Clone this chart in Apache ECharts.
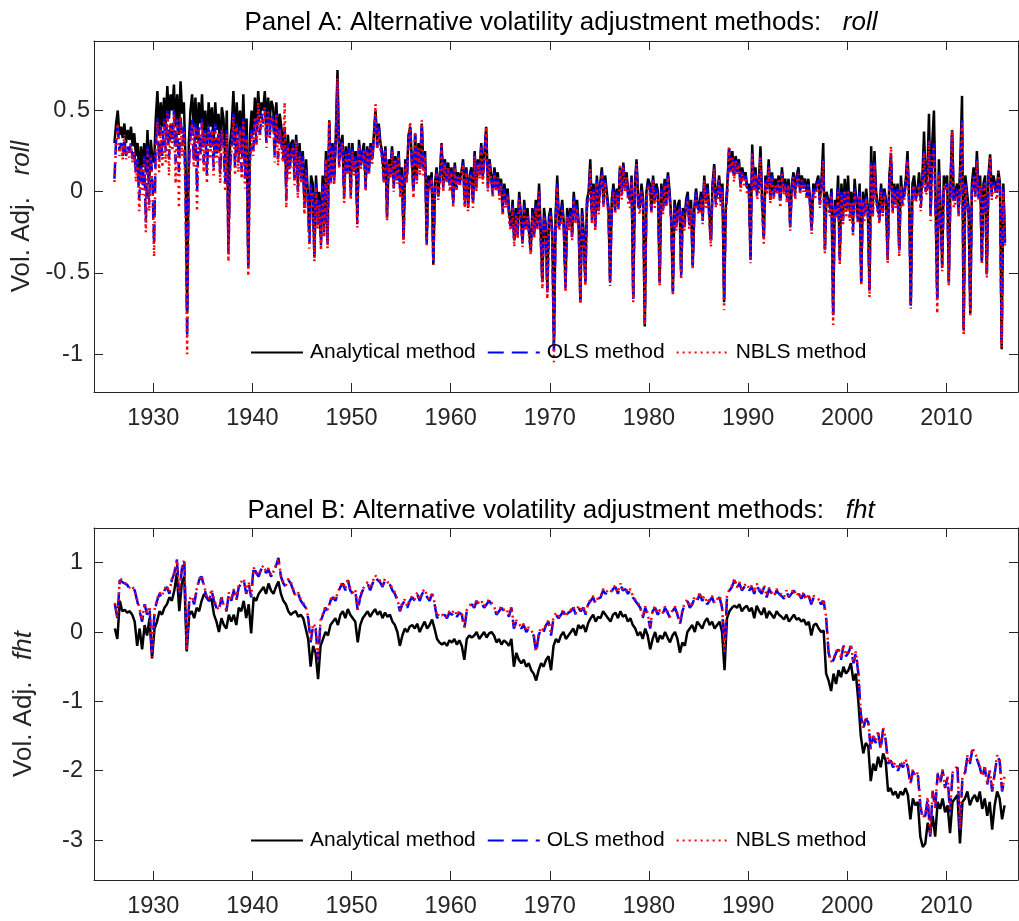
<!DOCTYPE html>
<html>
<head>
<meta charset="utf-8">
<script src="https://cdn.jsdelivr.net/npm/echarts@6/dist/echarts.min.js"></script>
<style>
html,body{margin:0;padding:0;background:#fff;}
#chart{width:1019px;height:921px;}
</style>
</head>
<body>
<div id="chart"></div>
<script>
const startYear = 1926;
const perYearA = 6;   // panel A: bimonthly observations
const perYearB = 4;   // panel B: quarterly observations
const seriesNames = ['Analytical method', 'OLS method', 'NBLS method'];
const xTicks = [1930, 1940, 1950, 1960, 1970, 1980, 1990, 2000, 2010];
const yTicksA = [-1, -0.5, 0, 0.5];
const yTicksB = [-3, -2, -1, 0, 1];

// Panel A: roll (6 values per year, 1926..2015)
const rollAnalytical = [
0.30,0.42,0.50,0.35,0.40,0.33, 0.42,0.30,0.38,0.32,0.40,0.28, 0.36,0.22,0.30,0.10,0.28,0.15, 0.30,0.12,0.38,0.05,0.32,0.20,
0.18,0.45,0.62,0.35,0.55,0.40, 0.58,0.42,0.65,0.45,0.60,0.50, 0.66,0.40,0.60,0.35,0.68,0.48, 0.55,0.20,-0.75,0.30,0.50,0.60,
0.40,0.58,0.32,0.55,0.42,0.60, 0.35,0.50,0.28,0.55,0.40,0.52, 0.30,0.55,0.38,0.48,0.25,0.52, 0.45,0.20,0.50,-0.32,0.30,0.40,
0.62,0.30,0.55,0.35,0.50,0.28, 0.60,0.25,0.45,-0.45,0.35,0.50, 0.35,0.58,0.42,0.62,0.45,0.55, 0.50,0.62,0.40,0.58,0.45,0.56,
0.52,0.35,0.55,0.30,0.48,0.40, 0.28,0.40,0.05,0.35,0.20,0.30, 0.32,0.15,0.35,0.05,0.30,0.12, 0.25,-0.05,0.20,0.00,-0.25,0.10,
0.05,-0.40,0.10,-0.15,0.00,-0.30, 0.10,-0.20,0.25,-0.30,0.44,0.10, 0.30,0.10,0.35,0.75,0.20,0.30, 0.35,0.00,0.28,0.15,0.30,0.02,
0.30,0.15,0.25,-0.15,0.32,0.18, 0.18,0.30,0.05,0.28,0.15,0.30, 0.20,0.35,0.50,0.30,0.42,0.30, 0.25,0.10,0.28,-0.14,0.20,0.12,
0.28,0.05,0.22,0.10,0.25,0.02, 0.15,-0.28,0.20,0.10,0.35,0.40, 0.20,0.02,0.35,0.10,0.30,0.15, 0.42,0.15,0.25,-0.30,0.10,0.05,
0.12,-0.45,0.05,0.15,0.00,0.10, 0.30,0.05,0.20,0.10,0.18,0.05, 0.15,-0.05,0.18,0.05,0.12,0.08, 0.12,0.20,-0.05,0.15,-0.08,0.10,
0.15,-0.05,0.25,0.05,0.20,0.12, 0.30,0.10,0.25,0.40,0.05,0.20, 0.20,0.02,0.15,0.05,0.12,0.00, 0.08,-0.10,0.05,-0.05,0.02,-0.15,
-0.20,-0.05,-0.30,-0.10,-0.25,0.00, -0.15,-0.30,-0.05,-0.20,-0.10,-0.25, -0.35,-0.10,-0.25,-0.05,-0.20,0.05, -0.25,-0.55,-0.10,-0.20,-0.60,-0.15,
-0.10,-0.25,-0.95,-0.15,0.10,-0.20, -0.15,-0.05,-0.20,-0.58,-0.10,-0.20, -0.10,-0.25,0.00,-0.15,-0.05,-0.20, -0.68,-0.10,-0.25,-0.55,-0.05,0.00,
0.20,-0.15,0.05,-0.20,0.10,-0.10, 0.05,0.15,-0.05,0.10,0.00,-0.10, -0.55,-0.05,0.05,-0.10,0.02,-0.08, 0.15,0.00,0.18,0.05,0.12,-0.02,
-0.05,0.10,-0.65,0.05,0.20,-0.05, -0.10,0.05,-0.05,-0.83,0.00,0.08, 0.05,-0.10,0.10,-0.05,0.05,0.00, -0.55,0.05,-0.10,0.08,-0.05,0.12,
0.00,-0.15,-0.61,-0.05,-0.20,-0.08, -0.05,-0.50,-0.10,-0.20,-0.05,0.00, -0.20,-0.05,-0.45,-0.10,0.02,-0.08, -0.10,0.00,-0.15,0.10,-0.05,0.05,
0.05,-0.30,0.05,0.17,-0.05,0.00, 0.10,-0.05,0.05,-0.68,-0.10,0.05, 0.27,0.15,0.25,0.10,0.22,0.15, 0.20,0.05,0.15,0.08,0.12,0.02,
0.05,-0.40,0.29,0.05,0.15,0.00, 0.05,0.28,-0.05,-0.28,0.10,0.02, 0.20,-0.02,0.12,0.00,0.08,0.03, 0.10,-0.05,0.15,0.02,0.08,-0.03,
0.08,-0.20,0.05,0.12,0.00,0.10, 0.15,0.02,0.10,0.05,0.08,0.00, 0.08,-0.05,-0.22,0.05,0.00,0.06, 0.10,-0.05,0.08,0.30,-0.35,0.00,
0.00,-0.10,0.02,-0.75,-0.05,-0.12, 0.10,-0.40,0.05,-0.15,0.08,-0.10, 0.10,-0.12,0.00,-0.20,0.08,-0.05, -0.15,0.05,-0.55,0.00,-0.12,0.02,
-0.10,-0.60,0.28,-0.10,0.25,0.00, 0.00,-0.15,0.05,-0.10,0.02,-0.05, -0.40,0.10,0.22,-0.10,0.05,-0.05, 0.05,-0.35,0.10,-0.05,0.00,0.08,
0.25,-0.05,-0.70,0.05,0.10,-0.02, 0.00,0.12,-0.05,0.08,0.37,0.05, 0.10,0.48,-0.10,0.30,0.50,-0.05, -0.65,0.20,-0.10,-0.45,0.10,0.05,
0.10,-0.55,0.05,0.38,-0.05,0.00, 0.05,-0.10,0.20,0.59,-0.85,0.10, 0.10,-0.10,-0.75,0.05,0.15,0.00, 0.25,0.00,0.10,-0.42,0.05,0.10,
-0.50,0.10,0.23,0.00,0.10,0.05, 0.00,0.13,0.05,-0.97,0.05,-0.30
];
const rollOLS = [
0.08,0.32,0.40,0.25,0.30,0.22, 0.33,0.22,0.28,0.24,0.30,0.20, 0.26,0.10,0.20,-0.05,0.18,0.02, 0.22,-0.19,0.28,-0.08,0.25,0.05,
-0.33,0.30,0.45,0.18,0.40,0.22, 0.45,0.25,0.50,0.20,0.44,0.30, 0.50,0.18,0.45,0.12,0.48,0.28, 0.40,0.05,-0.90,0.15,0.35,0.45,
0.20,0.42,0.00,0.40,0.22,0.45, 0.18,0.38,0.10,0.42,0.25,0.40, 0.15,0.42,0.22,0.38,0.10,0.40, 0.30,0.05,0.38,-0.38,0.15,0.30,
0.48,0.15,0.42,0.18,0.40,0.12, 0.45,0.08,0.35,-0.47,0.20,0.38, 0.25,0.45,0.30,0.52,0.35,0.48, 0.42,0.52,0.30,0.50,0.35,0.48,
0.45,0.22,0.48,0.20,0.40,0.30, 0.20,0.38,-0.05,0.30,0.12,0.25, 0.30,0.08,0.32,0.00,0.25,0.08, 0.22,-0.10,0.15,-0.05,-0.32,0.05,
0.00,-0.38,0.05,-0.20,-0.05,-0.33, 0.05,-0.25,0.22,-0.32,0.42,0.06, 0.28,0.06,0.33,0.68,0.16,0.27, 0.32,-0.04,0.25,0.12,0.27,-0.02,
0.27,0.12,0.22,-0.20,0.30,0.15, 0.15,0.27,0.02,0.26,0.12,0.28, 0.18,0.33,0.48,0.27,0.40,0.28, 0.22,0.07,0.26,-0.16,0.18,0.10,
0.26,0.02,0.20,0.07,0.23,-0.02, 0.12,-0.30,0.18,0.07,0.33,0.40, 0.18,-0.02,0.36,0.07,0.28,0.12, 0.42,0.12,0.23,-0.32,0.07,0.02,
0.10,-0.43,0.02,0.13,-0.03,0.07, 0.29,0.02,0.18,0.07,0.16,0.02, 0.13,-0.08,0.16,0.02,0.10,0.05, 0.10,0.18,-0.08,0.13,-0.10,0.07,
0.12,-0.08,0.23,0.02,0.18,0.10, 0.28,0.07,0.23,0.38,0.02,0.18, 0.18,-0.02,0.12,0.02,0.10,-0.03, 0.05,-0.13,0.02,-0.08,0.00,-0.18,
-0.22,-0.08,-0.32,-0.13,-0.27,-0.03, -0.18,-0.32,-0.08,-0.22,-0.13,-0.27, -0.37,-0.13,-0.27,-0.08,-0.22,0.02, -0.28,-0.57,-0.13,-0.23,-0.62,-0.18,
-0.12,-0.27,-0.98,-0.18,0.05,-0.22, -0.18,-0.08,-0.23,-0.60,-0.13,-0.22, -0.12,-0.28,-0.03,-0.18,-0.08,-0.22, -0.66,-0.13,-0.28,-0.56,-0.08,-0.03,
0.15,-0.18,0.02,-0.22,0.07,-0.12, 0.02,0.12,-0.08,0.07,-0.03,-0.12, -0.56,-0.08,0.02,-0.12,0.00,-0.10, 0.15,-0.03,0.16,0.02,0.10,-0.05,
-0.08,0.08,-0.66,0.02,0.18,-0.08, -0.12,0.02,-0.08,-0.81,-0.03,0.05, 0.02,-0.12,0.08,-0.08,0.02,-0.03, -0.56,0.02,-0.12,0.05,-0.08,0.10,
-0.03,-0.18,-0.62,-0.08,-0.22,-0.10, -0.08,-0.52,-0.12,-0.22,-0.08,-0.03, -0.22,-0.08,-0.46,-0.12,0.00,-0.10, -0.12,-0.03,-0.18,0.08,-0.08,0.02,
0.02,-0.32,0.02,0.15,-0.08,-0.03, 0.08,-0.08,0.02,-0.66,-0.12,0.02, 0.26,0.12,0.22,0.08,0.20,0.12, 0.18,0.02,0.12,0.05,0.10,0.00,
0.02,-0.42,0.24,0.02,0.12,-0.03, 0.02,0.22,-0.08,-0.30,0.07,0.00, 0.16,-0.05,0.10,-0.03,0.05,0.00, 0.08,-0.08,0.12,0.00,0.05,-0.05,
0.05,-0.22,0.02,0.10,-0.03,0.07, 0.12,0.00,0.08,0.02,0.05,-0.03, 0.05,-0.08,-0.24,0.02,-0.03,0.03, 0.07,-0.08,0.05,0.20,-0.36,-0.03,
-0.03,-0.13,0.00,-0.76,-0.08,-0.15, 0.02,-0.42,0.00,-0.18,0.03,-0.13, 0.02,-0.16,-0.05,-0.25,0.02,-0.10, -0.18,0.00,-0.56,-0.04,-0.16,-0.02,
-0.14,-0.62,0.18,-0.14,0.18,-0.04, -0.04,-0.18,0.02,-0.13,0.00,-0.08, -0.42,0.05,0.24,-0.12,0.02,-0.08, 0.02,-0.37,0.05,-0.08,-0.03,0.05,
0.20,-0.08,-0.70,0.02,0.05,-0.05, -0.04,0.05,-0.10,0.04,0.25,0.00, 0.02,0.32,-0.15,0.20,0.30,-0.10, -0.66,0.12,-0.14,-0.47,0.05,0.02,
0.05,-0.56,0.00,0.37,-0.08,-0.04, 0.02,-0.14,0.12,0.44,-0.84,0.05, 0.06,-0.14,-0.72,0.02,0.10,-0.04, 0.20,-0.04,0.05,-0.43,0.02,0.06,
-0.51,0.05,0.20,-0.03,0.06,0.02, -0.03,0.10,0.02,-0.95,0.02,-0.32
];
const rollNBLS = [
0.06,0.30,0.42,0.22,0.28,0.20, 0.35,0.20,0.26,0.21,0.29,0.18, 0.24,0.06,0.18,-0.12,0.15,-0.02, 0.20,-0.25,0.26,-0.12,0.22,0.02,
-0.40,0.25,0.43,0.12,0.38,0.15, 0.43,0.18,0.48,0.10,0.42,0.25, 0.48,0.05,0.44,-0.10,0.46,0.22, 0.38,-0.05,-1.00,0.10,0.32,0.42,
0.15,0.40,-0.12,0.38,0.18,0.43, 0.12,0.36,0.05,0.40,0.20,0.38, 0.10,0.40,0.18,0.36,0.05,0.38, 0.28,0.00,0.36,-0.43,0.10,0.28,
0.46,0.10,0.40,0.12,0.38,0.08, 0.43,0.02,0.33,-0.52,0.15,0.36, 0.22,0.46,0.28,0.55,0.32,0.47, 0.40,0.52,0.27,0.49,0.32,0.46,
0.44,0.18,0.47,0.16,0.38,0.28, 0.18,0.55,-0.10,0.28,0.08,0.22, 0.28,0.04,0.31,-0.04,0.22,0.05, 0.20,-0.14,0.13,-0.08,-0.35,0.02,
-0.03,-0.43,0.03,-0.23,-0.08,-0.36, 0.03,-0.28,0.20,-0.35,0.44,0.04, 0.26,0.04,0.32,0.70,0.14,0.25, 0.30,-0.07,0.23,0.10,0.25,-0.05,
0.25,0.10,0.20,-0.22,0.28,0.13, 0.13,0.25,0.00,0.25,0.10,0.27, 0.17,0.32,0.54,0.26,0.38,0.27, 0.20,0.05,0.25,-0.18,0.17,0.08,
0.25,0.00,0.19,0.05,0.22,-0.04, 0.10,-0.32,0.17,0.05,0.32,0.43, 0.16,-0.04,0.37,0.05,0.27,0.10, 0.44,0.10,0.22,-0.34,0.05,0.00,
0.08,-0.45,0.00,0.12,-0.05,0.05, 0.30,0.00,0.17,0.05,0.15,0.00, 0.12,-0.10,0.15,0.00,0.09,0.03, 0.09,0.17,-0.10,0.12,-0.12,0.05,
0.11,-0.10,0.22,0.00,0.17,0.08, 0.27,0.05,0.22,0.40,0.00,0.17, 0.17,-0.04,0.11,0.00,0.09,-0.05, 0.04,-0.15,0.00,-0.10,-0.02,-0.20,
-0.24,-0.10,-0.34,-0.15,-0.29,-0.05, -0.20,-0.34,-0.10,-0.24,-0.15,-0.29, -0.39,-0.15,-0.29,-0.10,-0.24,0.00, -0.30,-0.60,-0.15,-0.25,-0.66,-0.20,
-0.14,-0.29,-1.05,-0.20,0.03,-0.24, -0.20,-0.10,-0.25,-0.62,-0.15,-0.24, -0.14,-0.30,-0.05,-0.20,-0.10,-0.24, -0.69,-0.15,-0.30,-0.58,-0.10,-0.05,
0.14,-0.20,0.00,-0.24,0.06,-0.14, 0.00,0.11,-0.10,0.06,-0.05,-0.14, -0.58,-0.10,0.00,-0.14,-0.02,-0.12, 0.16,-0.05,0.15,0.00,0.09,-0.07,
-0.10,0.07,-0.68,0.00,0.17,-0.10, -0.14,0.00,-0.10,-0.82,-0.05,0.04, 0.00,-0.14,0.07,-0.10,0.00,-0.05, -0.58,0.00,-0.14,0.04,-0.10,0.09,
-0.05,-0.20,-0.64,-0.10,-0.24,-0.12, -0.10,-0.54,-0.14,-0.24,-0.10,-0.05, -0.24,-0.10,-0.48,-0.14,-0.02,-0.12, -0.14,-0.05,-0.20,0.07,-0.10,0.00,
0.00,-0.34,0.00,0.14,-0.10,-0.05, 0.07,-0.10,0.00,-0.73,-0.14,0.00, 0.27,0.11,0.21,0.06,0.19,0.11, 0.17,0.00,0.11,0.04,0.09,-0.02,
0.00,-0.44,0.23,0.00,0.11,-0.05, 0.00,0.21,-0.10,-0.32,0.06,-0.02, 0.15,-0.07,0.09,-0.05,0.04,-0.02, 0.07,-0.10,0.11,-0.02,0.04,-0.07,
0.04,-0.24,0.00,0.09,-0.05,0.06, 0.11,-0.02,0.07,0.00,0.04,-0.05, 0.04,-0.10,-0.26,0.00,-0.05,0.02, 0.06,-0.10,0.04,0.19,-0.38,-0.05,
-0.05,-0.15,-0.02,-0.82,-0.10,-0.17, 0.00,-0.45,-0.02,-0.20,0.01,-0.15, 0.00,-0.18,-0.07,-0.28,0.00,-0.12, -0.20,-0.02,-0.58,-0.06,-0.18,-0.04,
-0.16,-0.65,0.17,-0.16,0.17,-0.06, -0.06,-0.20,0.00,-0.15,-0.02,-0.10, -0.44,0.04,0.28,-0.14,0.00,-0.10, 0.00,-0.40,0.04,-0.10,-0.05,0.04,
0.19,-0.10,-0.72,0.00,0.04,-0.07, -0.06,0.04,-0.12,0.02,0.24,-0.02, 0.00,0.31,-0.18,0.19,0.28,-0.12, -0.75,0.11,-0.16,-0.49,0.04,0.00,
0.04,-0.58,-0.02,0.38,-0.10,-0.06, 0.00,-0.16,0.11,0.42,-0.88,0.04, 0.05,-0.16,-0.76,0.00,0.09,-0.06, 0.19,-0.06,0.04,-0.45,0.00,0.05,
-0.53,0.04,0.21,-0.05,0.05,0.00, -0.05,0.12,0.00,-0.96,0.00,-0.34
];

// Panel B: fht (4 values per year, 1926..2015)
const fhtAnalytical = [
0.05,-0.10,0.45,0.30, 0.32,0.28,0.30,0.25, 0.15,-0.20,0.05,-0.25, 0.10,-0.05,0.20,-0.38,
0.05,0.15,0.30,0.25, 0.35,0.40,0.50,0.45, 0.60,0.85,0.30,0.70, 0.80,-0.28,0.25,0.30,
0.20,0.35,0.30,0.45, 0.55,0.50,0.45,0.48, 0.25,0.15,0.00,0.20, 0.10,0.05,0.25,0.15,
0.25,0.10,0.35,0.30, 0.45,0.20,0.40,-0.02, 0.50,0.45,0.55,0.60, 0.65,0.55,0.70,0.60,
0.55,0.65,0.73,0.55, 0.45,0.40,0.30,0.25, 0.28,0.30,0.22,0.25, 0.20,0.05,-0.10,-0.50,
-0.20,-0.30,-0.68,-0.20, -0.10,0.00,-0.05,0.10, 0.15,0.20,0.10,0.25, 0.30,0.20,0.33,0.25,
0.20,0.15,-0.15,0.10, 0.20,0.25,0.30,0.22, 0.28,0.33,0.25,0.30, 0.20,0.28,0.22,0.25,
0.15,0.10,0.00,-0.20, -0.05,0.05,0.00,0.08, 0.10,0.05,0.12,0.00, 0.08,0.15,0.05,0.10,
0.18,0.05,-0.10,-0.15, -0.18,-0.15,-0.20,-0.12, -0.15,-0.10,-0.18,-0.12, -0.20,-0.40,-0.10,-0.05,
-0.08,-0.05,0.00,-0.10, -0.05,0.00,-0.08,-0.02, 0.00,-0.05,-0.15,-0.10, -0.18,-0.12,-0.15,-0.20,
-0.10,-0.50,-0.30,-0.40, -0.45,-0.40,-0.50,-0.45, -0.55,-0.60,-0.70,-0.55, -0.45,-0.50,-0.40,-0.35,
-0.55,-0.20,-0.10,-0.15, -0.05,0.00,-0.10,-0.05, 0.00,0.05,-0.05,0.10, 0.05,0.10,0.00,0.13,
0.20,0.25,0.15,0.22, 0.20,0.30,0.25,0.20, 0.15,0.25,0.28,0.20, 0.30,0.22,0.25,0.15,
0.20,0.10,0.05,-0.05, 0.00,-0.10,0.05,-0.05, -0.25,-0.10,0.00,-0.15, -0.05,-0.10,0.00,-0.08,
-0.15,-0.05,0.00,-0.10, -0.30,-0.15,-0.20,0.00, 0.05,0.10,0.00,0.15, 0.10,0.05,0.15,0.20,
0.10,0.15,0.05,0.10, 0.15,0.00,-0.55,0.20, 0.30,0.35,0.38,0.35, 0.40,0.30,0.35,0.38,
0.30,0.35,0.20,0.38, 0.30,0.25,0.35,0.20, 0.30,0.25,0.20,0.30, 0.25,0.22,0.18,0.25,
0.15,0.20,0.25,0.18, 0.20,0.15,0.18,0.10, 0.15,-0.05,0.10,0.12, 0.05,0.00,0.02,-0.60,
-0.70,-0.85,-0.60,-0.75, -0.55,-0.65,-0.50,-0.60, -0.55,-0.45,-0.70,-0.60, -1.00,-1.50,-1.75,-1.60,
-1.65,-2.15,-1.90,-2.00, -1.80,-1.95,-1.75,-1.85, -2.30,-2.25,-2.35,-2.30, -2.40,-2.30,-2.35,-2.25,
-2.35,-2.70,-2.40,-2.50, -2.45,-2.95,-3.10,-3.05, -2.75,-2.90,-2.65,-2.95, -2.45,-2.55,-2.40,-2.60,
-2.50,-2.90,-2.45,-2.40, -2.35,-3.05,-2.45,-2.40, -2.30,-2.50,-2.40,-2.35, -2.45,-2.30,-2.55,-2.40,
-2.65,-2.45,-2.85,-2.50, -2.30,-2.40,-2.70,-2.50
];
const fhtOLS = [
0.40,0.20,0.75,0.72, 0.70,0.68,0.62,0.65, 0.60,0.45,0.30,0.15, 0.40,0.25,0.35,-0.35,
0.30,0.45,0.55,0.50, 0.60,0.65,0.55,0.75, 0.85,1.05,0.55,0.90, 1.05,-0.25,0.45,0.50,
0.40,0.60,0.75,0.80, 0.65,0.50,0.45,0.60, 0.45,0.35,0.30,0.50, 0.35,0.30,0.55,0.45,
0.60,0.45,0.65,0.70, 0.75,0.55,0.70,0.50, 0.95,0.85,0.80,0.90, 0.95,0.85,0.90,0.80,
0.85,0.95,1.07,0.80, 0.70,0.65,0.75,0.70, 0.60,0.50,0.55,0.45, 0.40,0.35,0.20,-0.15,
0.10,0.05,-0.40,0.15, 0.25,0.35,0.30,0.45, 0.50,0.45,0.55,0.65, 0.70,0.60,0.75,0.60,
0.55,0.60,0.30,0.50, 0.60,0.65,0.70,0.60, 0.70,0.80,0.75,0.72, 0.65,0.75,0.70,0.68,
0.60,0.55,0.45,0.30, 0.40,0.45,0.35,0.45, 0.50,0.45,0.55,0.45, 0.55,0.60,0.50,0.45,
0.55,0.40,0.20,0.25, 0.22,0.25,0.20,0.28, 0.25,0.30,0.22,0.28, 0.25,0.05,0.30,0.35,
0.40,0.35,0.45,0.38, 0.42,0.35,0.40,0.45, 0.40,0.35,0.25,0.30, 0.35,0.30,0.32,0.22,
0.35,0.05,0.15,0.10, 0.05,0.10,0.00,0.05, 0.00,-0.05,-0.30,-0.05, 0.05,0.00,0.10,0.15,
-0.05,0.20,0.25,0.20, 0.25,0.30,0.20,0.28, 0.30,0.35,0.25,0.35, 0.30,0.35,0.25,0.40,
0.45,0.50,0.40,0.48, 0.50,0.60,0.55,0.58, 0.55,0.62,0.65,0.55, 0.68,0.60,0.62,0.55,
0.60,0.50,0.45,0.40, 0.35,0.20,0.35,0.25, 0.05,0.30,0.35,0.25, 0.30,0.25,0.35,0.28,
0.20,0.30,0.35,0.25, 0.10,0.30,0.40,0.45, 0.35,0.40,0.50,0.45, 0.55,0.45,0.50,0.40,
0.45,0.50,0.40,0.45, 0.50,0.35,-0.30,0.50, 0.60,0.65,0.75,0.62, 0.70,0.60,0.65,0.68,
0.60,0.65,0.55,0.68, 0.60,0.55,0.65,0.50, 0.62,0.55,0.50,0.60, 0.55,0.52,0.48,0.58,
0.50,0.55,0.60,0.50, 0.55,0.48,0.55,0.45, 0.52,0.40,0.50,0.48, 0.45,0.40,0.45,0.20,
-0.30,-0.45,-0.40,-0.30, -0.25,-0.40,-0.20,-0.35, -0.30,-0.20,-0.45,-0.30, -0.60,-1.20,-1.40,-1.25,
-1.30,-1.70,-1.50,-1.60, -1.45,-1.70,-1.40,-1.55, -1.90,-1.85,-1.95,-1.90, -2.00,-1.90,-1.95,-1.85,
-1.95,-2.20,-2.00,-2.10, -2.05,-2.50,-2.70,-2.65, -2.40,-2.95,-2.30,-2.55, -2.05,-2.20,-2.00,-2.25,
-2.10,-2.60,-2.05,-2.00, -1.95,-2.85,-2.10,-2.05, -1.80,-1.90,-1.70,-1.75, -1.85,-1.95,-2.10,-1.95,
-2.20,-2.00,-2.30,-2.05, -1.80,-1.85,-2.30,-2.10
];
const fhtNBLS = [
0.42,0.22,0.78,0.74, 0.72,0.66,0.64,0.67, 0.58,0.47,0.33,0.17, 0.42,0.27,0.37,-0.36,
0.32,0.47,0.57,0.52, 0.62,0.67,0.57,0.77, 0.86,1.04,0.57,0.92, 1.04,-0.26,0.47,0.52,
0.42,0.62,0.77,0.82, 0.67,0.52,0.47,0.62, 0.47,0.37,0.32,0.52, 0.37,0.32,0.57,0.47,
0.62,0.47,0.67,0.72, 0.77,0.57,0.72,0.52, 0.93,0.87,0.82,0.92, 0.96,0.87,0.92,0.82,
0.87,0.97,1.05,0.82, 0.72,0.67,0.77,0.72, 0.62,0.52,0.57,0.47, 0.42,0.37,0.22,-0.14,
0.12,0.07,-0.38,0.17, 0.27,0.37,0.32,0.47, 0.52,0.47,0.57,0.67, 0.72,0.62,0.77,0.62,
0.57,0.62,0.32,0.52, 0.62,0.67,0.72,0.62, 0.72,0.82,0.77,0.74, 0.67,0.77,0.72,0.70,
0.62,0.57,0.47,0.32, 0.42,0.47,0.37,0.47, 0.52,0.47,0.57,0.47, 0.57,0.62,0.52,0.47,
0.57,0.42,0.22,0.27, 0.24,0.27,0.22,0.30, 0.27,0.32,0.24,0.30, 0.27,0.07,0.32,0.37,
0.42,0.37,0.47,0.40, 0.44,0.37,0.42,0.47, 0.42,0.37,0.27,0.32, 0.37,0.32,0.34,0.24,
0.37,0.07,0.17,0.12, 0.07,0.12,0.02,0.07, 0.02,-0.03,-0.28,-0.03, 0.07,0.02,0.12,0.17,
-0.03,0.22,0.27,0.22, 0.27,0.32,0.22,0.30, 0.32,0.37,0.27,0.37, 0.32,0.37,0.27,0.42,
0.47,0.52,0.42,0.50, 0.52,0.62,0.57,0.60, 0.57,0.64,0.67,0.57, 0.70,0.62,0.64,0.57,
0.62,0.52,0.47,0.42, 0.37,0.22,0.37,0.27, 0.07,0.32,0.37,0.27, 0.32,0.27,0.37,0.30,
0.22,0.32,0.37,0.27, 0.12,0.32,0.42,0.47, 0.37,0.42,0.52,0.47, 0.57,0.47,0.52,0.42,
0.47,0.52,0.42,0.47, 0.52,0.37,-0.28,0.52, 0.62,0.67,0.77,0.64, 0.72,0.62,0.67,0.70,
0.62,0.67,0.57,0.70, 0.62,0.57,0.67,0.52, 0.64,0.57,0.52,0.62, 0.57,0.54,0.50,0.60,
0.52,0.57,0.62,0.52, 0.57,0.50,0.57,0.47, 0.54,0.42,0.52,0.50, 0.47,0.42,0.47,0.22,
-0.28,-0.43,-0.38,-0.28, -0.23,-0.38,-0.18,-0.33, -0.28,-0.18,-0.43,-0.28, -0.58,-1.18,-1.38,-1.23,
-1.28,-1.68,-1.48,-1.58, -1.43,-1.68,-1.38,-1.53, -1.88,-1.83,-1.93,-1.88, -1.98,-1.88,-1.93,-1.83,
-1.93,-2.18,-1.98,-2.08, -2.03,-2.48,-2.68,-2.63, -2.38,-2.93,-2.28,-2.53, -2.03,-2.18,-1.98,-2.23,
-2.08,-2.58,-2.03,-1.98, -1.93,-2.83,-2.08,-2.03, -1.78,-1.88,-1.68,-1.73, -1.83,-1.93,-2.08,-1.93,
-2.18,-1.98,-2.28,-2.03, -1.78,-1.83,-2.28,-2.08
];

const FONT = '"Liberation Sans", Arial, Helvetica, sans-serif';
const AXC = '#262626';
const XMIN = 1924.02, XMAX = 2017.23;
const LW = 2.5;

function toPairs(vals, perYear) {
  return vals.map((v, i) => [startYear + (i + 0.5) / perYear, v]);
}

function xAxes(grid) {
  const common = {
    gridIndex: grid, type: 'value', min: XMIN, max: XMAX,
    axisLine: { show: true, onZero: false, lineStyle: { color: AXC, width: 1 } },
    axisTick: { show: true, inside: true, length: 9, customValues: xTicks, lineStyle: { color: AXC, width: 1 } },
    splitLine: { show: false }
  };
  return [
    Object.assign({}, common, { position: 'bottom',
      axisLabel: { show: true, customValues: xTicks, margin: 15, fontSize: 23.5, color: AXC, fontFamily: FONT,
        formatter: function (v) { return String(v); } } }),
    Object.assign({}, common, { position: 'top', axisLabel: { show: false } })
  ];
}

const labelRich = {
  i: { fontSize: 23.5, color: AXC, fontFamily: FONT, padding: [0, 7, 0, 0] },
  d: { fontSize: 23.5, color: AXC, fontFamily: FONT },
  p: { fontSize: 23.5, color: AXC, fontFamily: FONT, padding: [0, 2, 0, 2] }
};

function yAxes(grid, min, max, ticks, nameStr) {
  const common = {
    gridIndex: grid, type: 'value', min: min, max: max,
    axisLine: { show: true, onZero: false, lineStyle: { color: AXC, width: 1 } },
    axisTick: { show: true, inside: true, length: 9, customValues: ticks, lineStyle: { color: AXC, width: 1 } },
    splitLine: { show: false }
  };
  return [
    Object.assign({}, common, {
      position: 'left',
      name: '{a|Vol. Adj.   }{b|' + nameStr + '}',
      nameLocation: 'middle', nameGap: 57,
      nameTextStyle: { fontSize: 26, color: AXC, fontFamily: FONT,
        rich: { a: { fontSize: 26, color: AXC, fontFamily: FONT },
                b: { fontSize: 26, color: AXC, fontFamily: FONT, fontStyle: 'italic' } } },
      axisLabel: { show: true, customValues: ticks, margin: 4, fontSize: 23.5, color: AXC, fontFamily: FONT,
        formatter: function (v) {
          const s = String(v);
          if (Number.isInteger(v)) return '{i|' + s + '}';
          const parts = s.split('.');
          return '{d|' + parts[0] + '}{p|.}{d|' + parts[1] + '}';
        },
        rich: labelRich }
    }),
    Object.assign({}, common, { position: 'right', axisLabel: { show: false } })
  ];
}

function lineSeries(name, vals, perYear, axisIdx, color, type) {
  return {
    type: 'line', name: name, data: toPairs(vals, perYear), xAxisIndex: axisIdx, yAxisIndex: axisIdx,
    symbol: 'none', showSymbol: false, clip: true, animation: false,
    lineStyle: { color: color, width: LW, type: type },
    itemStyle: { color: color },
    emphasis: { disabled: true }
  };
}

function titleFor(label, italicPart, top) {
  return {
    text: '{n|' + label + '   }{i|' + italicPart + '}',
    left: 556, top: top, textAlign: 'center',
    textStyle: { fontSize: 26, fontWeight: 'normal', color: '#000', fontFamily: FONT,
      rich: { n: { fontSize: 26, color: '#000', fontFamily: FONT },
              i: { fontSize: 26, color: '#000', fontFamily: FONT, fontStyle: 'italic' } } }
  };
}

function legendFor(top) {
  return {
    data: seriesNames, left: 250, top: top, orient: 'horizontal', padding: 0,
    itemWidth: 52, itemHeight: 14, itemGap: 11,
    selectedMode: false,
    itemStyle: { opacity: 0 },
    textStyle: { fontSize: 21, color: '#000', fontFamily: FONT, padding: [0, 0, 0, 2] }
  };
}

const chart = echarts.init(document.getElementById('chart'), null, { renderer: 'canvas' });
chart.setOption({
  animation: false,
  backgroundColor: '#fff',
  title: [
    titleFor('Panel A: Alternative volatility adjustment methods:', 'roll', 5),
    titleFor('Panel B: Alternative volatility adjustment methods:', 'fht', 493)
  ],
  legend: [legendFor(342), legendFor(830)],
  grid: [
    { left: 94, top: 41, width: 924, height: 351, containLabel: false },
    { left: 94, top: 528, width: 924, height: 352, containLabel: false }
  ],
  xAxis: xAxes(0).concat(xAxes(1)),
  yAxis: yAxes(0, -1.233, 0.928, yTicksA, 'roll').concat(yAxes(1, -3.576, 1.5, yTicksB, 'fht')),
  series: [
    lineSeries(seriesNames[0], rollAnalytical, perYearA, 0, '#000000', 'solid'),
    lineSeries(seriesNames[1], rollOLS, perYearA, 0, '#0000ff', [16, 8]),
    lineSeries(seriesNames[2], rollNBLS, perYearA, 0, '#ff0000', [2, 4]),
    lineSeries(seriesNames[0], fhtAnalytical, perYearB, 2, '#000000', 'solid'),
    lineSeries(seriesNames[1], fhtOLS, perYearB, 2, '#0000ff', [16, 8]),
    lineSeries(seriesNames[2], fhtNBLS, perYearB, 2, '#ff0000', [2, 4])
  ]
});
</script>
</body>
</html>
